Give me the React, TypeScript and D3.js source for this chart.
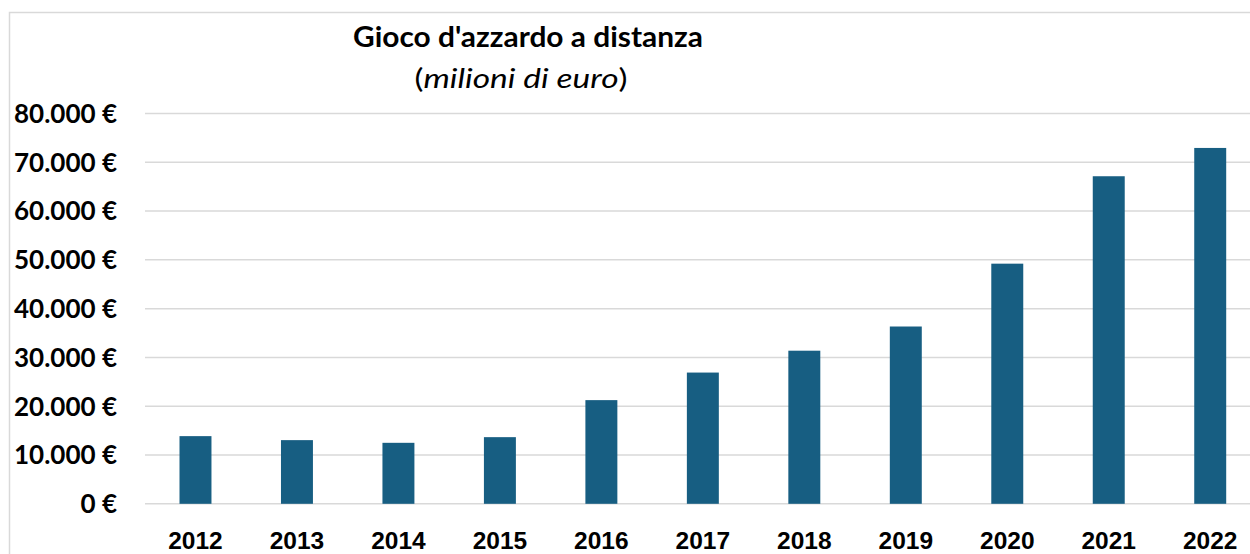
import { useEffect, useRef } from "react";
import * as d3 from "d3";

const WIDTH = 1250;
const HEIGHT = 554;

const years = ["2012", "2013", "2014", "2015", "2016", "2017", "2018", "2019", "2020", "2021", "2022"];
const amounts = [13870, 13050, 12500, 13660, 21250, 26900, 31380, 36340, 49220, 67140, 72940];
const yTicks = [0, 10000, 20000, 30000, 40000, 50000, 60000, 70000, 80000];

const FONT = "Lato, 'Open Sans', sans-serif";
const YEAR_FONT = "'Liberation Sans', Arial, sans-serif";
const BAR = "#175e82";
const GRID = "#d9d9d9";

const euro = (v: number) => d3.format(",")(v).replace(/,/g, ".") + " €";

export default function App() {
  const svgRef = useRef<SVGSVGElement | null>(null);

  useEffect(() => {
    const svg = d3.select(svgRef.current);
    svg.selectAll("*").remove();

    const x = d3.scaleBand<string>().domain(years).range([145, 1260.7]).paddingInner(0.685).paddingOuter(0.34);
    const y = d3.scaleLinear().domain([0, 80000]).range([503.8, 113.5]);

    // chart frame
    svg.append("rect")
      .attr("x", 9.5).attr("y", 12.5)
      .attr("width", 1260).attr("height", 600)
      .attr("fill", "white")
      .attr("stroke", GRID).attr("stroke-width", 1.5);

    // gridlines
    svg.append("g")
      .selectAll("line")
      .data(yTicks)
      .join("line")
      .attr("x1", 145).attr("x2", 1250)
      .attr("y1", (d) => y(d)).attr("y2", (d) => y(d))
      .attr("stroke", GRID).attr("stroke-width", 1.5);

    // y labels
    svg.append("g")
      .attr("font-family", FONT).attr("font-weight", "bold").attr("font-size", 26)
      .attr("text-anchor", "end")
      .selectAll("text")
      .data(yTicks)
      .join("text")
      .attr("x", 117).attr("y", (d) => y(d))
      .attr("dy", "0.36em")
      .text(euro);

    // bars
    svg.append("g")
      .selectAll("rect")
      .data(years.map((yr, i) => ({ yr, v: amounts[i] })))
      .join("rect")
      .attr("x", (d) => x(d.yr)!)
      .attr("width", x.bandwidth())
      .attr("y", (d) => y(d.v))
      .attr("height", (d) => y(0) - y(d.v))
      .attr("fill", BAR);

    // x labels
    svg.append("g")
      .attr("font-family", YEAR_FONT).attr("font-weight", "bold").attr("font-size", 24.5)
      .attr("text-anchor", "middle")
      .selectAll("text")
      .data(years)
      .join("text")
      .attr("x", (d) => x(d)! + x.bandwidth() / 2)
      .attr("y", 549)
      .text((d) => d);

    // title
    svg.append("text")
      .attr("x", 528).attr("y", 47)
      .attr("text-anchor", "middle")
      .attr("font-family", FONT).attr("font-weight", "bold").attr("font-size", 28)
      .attr("textLength", 350).attr("lengthAdjust", "spacingAndGlyphs")
      .text("Gioco d'azzardo a distanza");

    const sub = svg.append("text")
      .attr("x", 521).attr("y", 88)
      .attr("text-anchor", "middle")
      .attr("font-family", FONT).attr("font-size", 27)
      .attr("textLength", 213).attr("lengthAdjust", "spacingAndGlyphs");
    sub.append("tspan").text("(");
    sub.append("tspan").attr("font-style", "italic").text("milioni di euro");
    sub.append("tspan").text(")");
  }, []);

  return (
    <svg
      ref={svgRef}
      width={WIDTH}
      height={HEIGHT}
      style={{ position: "absolute", left: 0, top: 0, background: "white" }}
    />
  );
}
